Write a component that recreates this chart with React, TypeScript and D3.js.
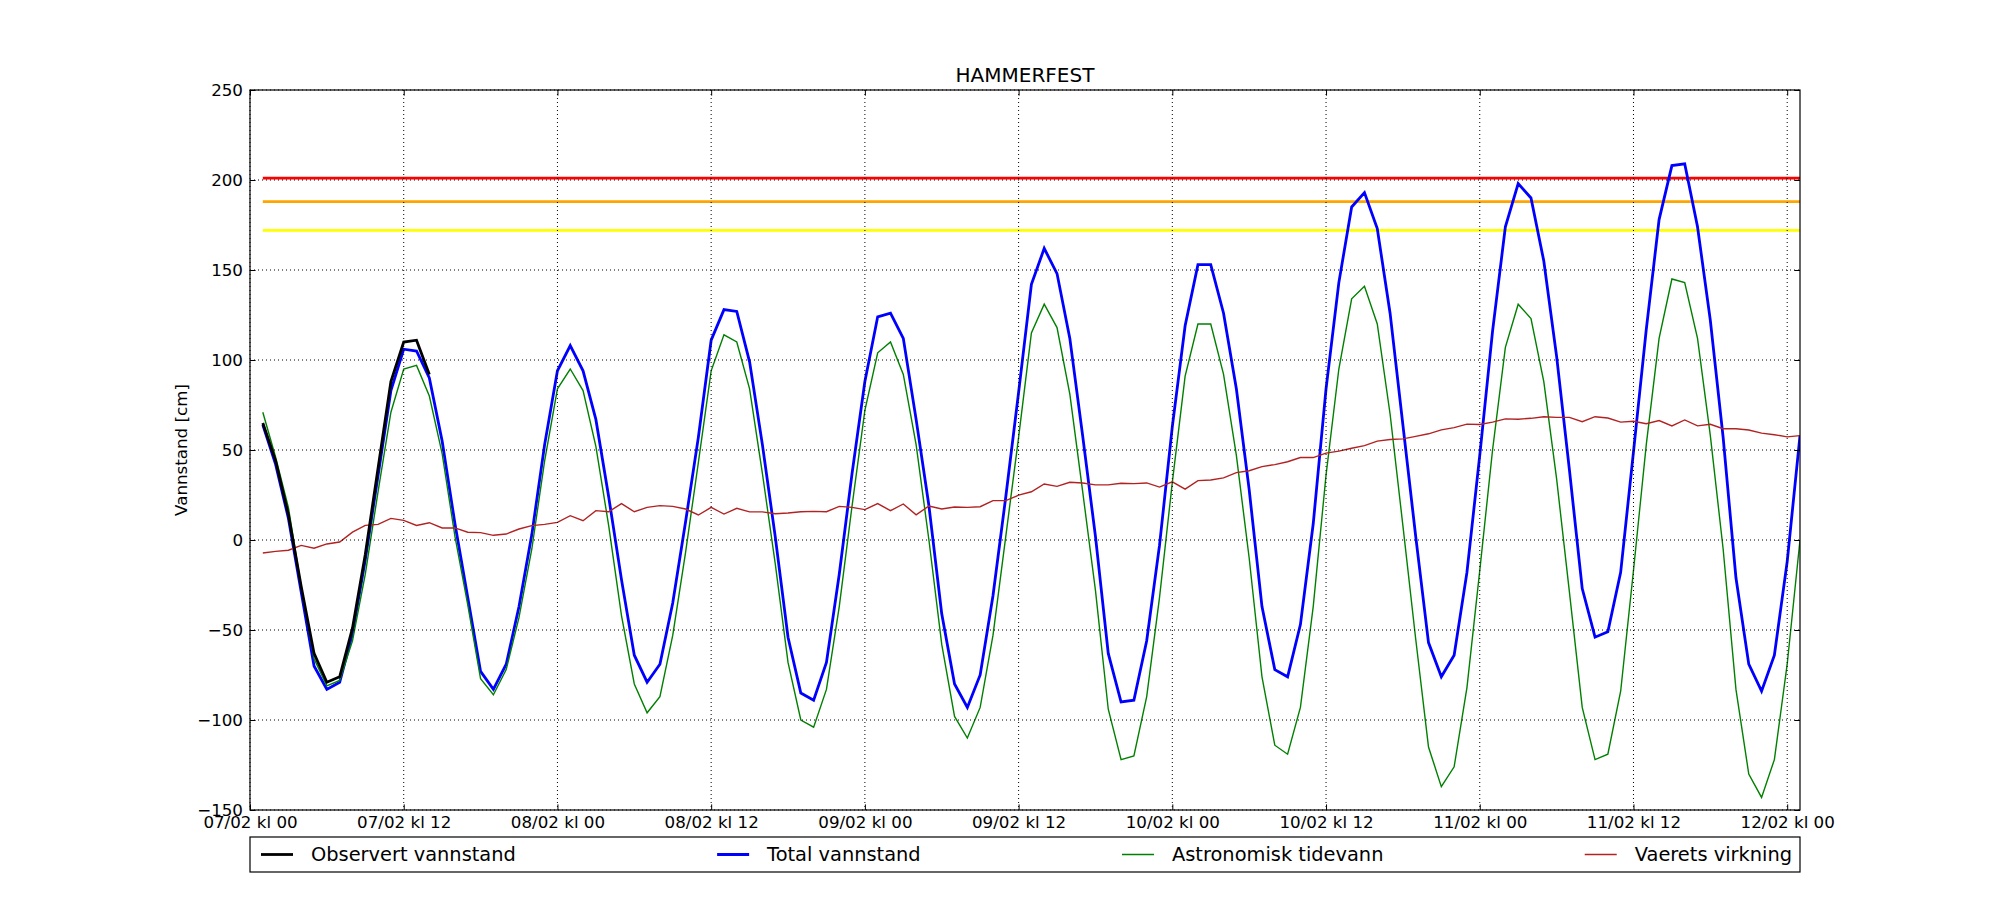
import React, { useEffect, useRef } from "react";
import * as d3 from "d3";

// station and legend
const station = "HAMMERFEST";
const seriesNames = ["Observert vannstand", "Total vannstand", "Astronomisk tidevann", "Vaerets virkning"];
const seriesColors = ["#000000", "#0000ff", "#008000", "#b22222"];

// hourly values from 07/02 kl 01 to 12/02 kl 01 (cm)
const observed = [65, 44, 14, -26, -63, -79, -76, -49, -8, 40, 88, 110, 111, 92];

const total = [
  64, 42, 12, -29, -70, -83, -79, -52, -11, 36,
  83, 106, 105, 90, 55, 9, -32, -73, -83, -69,
  -37, 3, 53, 94, 108, 94, 67, 24, -22, -64,
  -79, -69, -35, 10, 57, 111, 128, 127, 99, 53,
  2, -54, -85, -89, -68, -19, 37, 88, 124, 126,
  112, 67, 19, -41, -80, -93, -75, -31, 24, 82,
  142, 162, 148, 112, 58, 2, -63, -90, -89, -56,
  -3, 63, 119, 153, 153, 126, 84, 28, -37, -72,
  -76, -47, 9, 84, 143, 185, 193, 173, 126, 64,
  2, -57, -76, -64, -18, 47, 116, 174, 198, 190,
  155, 102, 39, -27, -54, -51, -18, 49, 117, 178,
  208, 209, 174, 122, 57, -21, -69, -84, -64, -12,
  58,
];

const astro = [
  71, 46, 18, -26, -66, -81, -78, -56, -19, 27,
  71, 95, 97, 80, 48, 2, -36, -77, -86, -72,
  -43, -5, 44, 84, 95, 83, 52, 8, -42, -80,
  -96, -87, -53, -7, 43, 94, 114, 110, 84, 37,
  -13, -68, -100, -104, -83, -37, 19, 72, 104, 110,
  92, 53, 0, -58, -98, -110, -93, -53, 2, 57,
  115, 131, 118, 81, 27, -28, -94, -122, -120, -87,
  -32, 32, 91, 120, 120, 92, 47, -10, -76, -114,
  -119, -93, -37, 36, 95, 134, 141, 120, 70, 8,
  -55, -115, -137, -126, -82, -17, 50, 107, 131, 123,
  88, 34, -29, -93, -122, -119, -84, -17, 53, 112,
  145, 143, 112, 58, -5, -83, -130, -143, -122, -69,
  0,
];

const weather = [
  -7.2, -6.3, -5.7, -3.0, -4.6, -2.2, -1.1, 4.4, 8.1, 8.7,
  12.0, 10.9, 8.1, 9.6, 6.7, 6.7, 4.3, 4.1, 2.6, 3.3,
  6.1, 8.0, 8.7, 9.8, 13.5, 10.7, 16.3, 15.7, 20.2, 15.7,
  18.1, 19.1, 18.7, 17.2, 13.9, 18.1, 14.4, 17.6, 15.6, 15.6,
  14.6, 15.0, 15.7, 15.9, 15.7, 18.7, 18.1, 16.9, 20.2, 16.3,
  20.0, 14.0, 18.9, 17.2, 18.3, 18.1, 18.5, 21.9, 21.9, 24.9,
  26.8, 31.1, 29.8, 32.1, 31.7, 30.6, 30.6, 31.5, 31.3, 31.7,
  29.4, 32.3, 28.3, 33.0, 33.3, 34.5, 37.4, 38.5, 40.8, 41.9,
  43.5, 45.8, 45.8, 48.3, 49.4, 51.0, 52.4, 54.9, 55.8, 56.2,
  57.6, 59.0, 61.2, 62.4, 64.4, 64.2, 65.5, 67.3, 67.1, 67.6,
  68.5, 68.1, 68.1, 65.7, 68.5, 67.8, 65.5, 66.0, 64.6, 66.4,
  63.4, 66.7, 63.4, 64.3, 61.8, 61.8, 61.1, 59.4, 58.5, 57.3,
  58.0,
];

// warning levels (cm)
const levels = [201, 188, 172];
const levelColors = ["#ff0000", "#ffa500", "#ffff00"];

const yTicks = [-150, -100, -50, 0, 50, 100, 150, 200, 250];

const firstHour = new Date(2017, 1, 7, 1);
const times = d3.timeHour.range(firstHour, new Date(2017, 1, 12, 2));

const W = 2000;
const H = 900;
const margin = { top: 90, right: 200, bottom: 90, left: 250 };
const font = "DejaVu Sans, sans-serif";

export default function App() {
  const ref = useRef<SVGSVGElement>(null);

  useEffect(() => {
    if (!ref.current) return;
    const svg = d3.select(ref.current);
    svg.selectAll("*").remove();

    const iw = W - margin.left - margin.right;
    const ih = H - margin.top - margin.bottom;

    const x = d3
      .scaleTime()
      .domain([new Date(2017, 1, 7, 0), new Date(2017, 1, 12, 1)])
      .range([margin.left, margin.left + iw]);
    const y = d3.scaleLinear().domain([-150, 250]).range([margin.top + ih, margin.top]);

    svg.append("rect").attr("width", W).attr("height", H).attr("fill", "#fff");

    svg
      .append("defs")
      .append("clipPath")
      .attr("id", "plot")
      .append("rect")
      .attr("x", margin.left)
      .attr("y", margin.top)
      .attr("width", iw)
      .attr("height", ih);

    const plot = svg.append("g").attr("clip-path", "url(#plot)");

    // warning levels
    levels.forEach((lv, i) => {
      plot
        .append("line")
        .attr("x1", x(times[0]))
        .attr("x2", x(times[times.length - 1]))
        .attr("y1", y(lv))
        .attr("y2", y(lv))
        .attr("stroke", levelColors[i])
        .attr("stroke-width", 2.8);
    });

    const line = d3
      .line<number>()
      .x((_, i) => x(times[i]))
      .y((d) => y(d));

    const drawSeries = (vals: number[], color: string, width: number) =>
      plot
        .append("path")
        .datum(vals)
        .attr("fill", "none")
        .attr("stroke", color)
        .attr("stroke-width", width)
        .attr("stroke-linejoin", "miter")
        .attr("d", line);

    drawSeries(total, seriesColors[1], 2.8);
    drawSeries(astro, seriesColors[2], 1.4);
    drawSeries(weather, seriesColors[3], 1.4);
    drawSeries(observed, seriesColors[0], 2.8);

    // grid on top of lines, like matplotlib
    const xTicks = x.ticks(d3.timeHour.every(12));
    const grid = svg.append("g").attr("stroke", "#000").attr("stroke-width", 1).attr("stroke-dasharray", "1,3");
    xTicks.forEach((t) => {
      grid.append("line").attr("x1", x(t)).attr("x2", x(t)).attr("y1", margin.top).attr("y2", margin.top + ih);
    });
    yTicks.forEach((v) => {
      grid.append("line").attr("x1", margin.left).attr("x2", margin.left + iw).attr("y1", y(v)).attr("y2", y(v));
    });

    // axes
    const styleAxis = (g: d3.Selection<SVGGElement, unknown, null, undefined>) => {
      g.attr("font-family", font).attr("font-size", 16.7);
      g.select(".domain").remove();
      g.selectAll("line").attr("stroke", "#000").attr("stroke-width", 1);
      g.selectAll("text").attr("fill", "#000");
    };

    svg
      .append("g")
      .attr("transform", `translate(0,${margin.top + ih})`)
      .call(
        d3
          .axisBottom(x)
          .tickValues(xTicks)
          .tickSizeInner(-5.6)
          .tickSizeOuter(0)
          .tickPadding(6)
          .tickFormat(d3.timeFormat("%d/%m kl %H") as any)
      )
      .call(styleAxis);
    svg
      .append("g")
      .attr("transform", `translate(0,${margin.top})`)
      .call(d3.axisTop(x).tickValues(xTicks).tickSizeInner(-5.6).tickSizeOuter(0).tickFormat(() => ""))
      .call(styleAxis);
    svg
      .append("g")
      .attr("transform", `translate(${margin.left},0)`)
      .call(d3.axisLeft(y).tickValues(yTicks).tickSizeInner(-5.6).tickSizeOuter(0).tickPadding(7))
      .call(styleAxis);
    svg
      .append("g")
      .attr("transform", `translate(${margin.left + iw},0)`)
      .call(d3.axisRight(y).tickValues(yTicks).tickSizeInner(-5.6).tickSizeOuter(0).tickFormat(() => ""))
      .call(styleAxis);

    // frame
    svg
      .append("rect")
      .attr("x", margin.left)
      .attr("y", margin.top)
      .attr("width", iw)
      .attr("height", ih)
      .attr("fill", "none")
      .attr("stroke", "#000")
      .attr("stroke-width", 1.2);

    // title and y label
    svg
      .append("text")
      .attr("x", margin.left + iw / 2)
      .attr("y", margin.top - 8)
      .attr("text-anchor", "middle")
      .attr("font-family", font)
      .attr("font-size", 20)
      .text(station);

    svg
      .append("text")
      .attr("transform", `translate(181,${margin.top + ih / 2}) rotate(-90)`)
      .attr("text-anchor", "middle")
      .attr("dominant-baseline", "central")
      .attr("font-family", font)
      .attr("font-size", 16.7)
      .text("Vannstand [cm]");

    // legend below the axes, expanded over the full width
    const legTop = 837;
    const legH = 35;
    const legMid = legTop + legH / 2;
    svg
      .append("rect")
      .attr("x", margin.left)
      .attr("y", legTop)
      .attr("width", iw)
      .attr("height", legH)
      .attr("fill", "#fff")
      .attr("stroke", "#000")
      .attr("stroke-width", 1.2);

    const leg = svg.append("g");
    const handleLen = 32;
    const textOff = 50;
    const texts = seriesNames.map((name) =>
      leg
        .append("text")
        .attr("font-family", font)
        .attr("font-size", 19.4)
        .attr("y", legMid)
        .attr("dy", "0.35em")
        .text(name)
    );
    const widths = texts.map((t) => (t.node() as SVGTextElement).getComputedTextLength());
    const start = margin.left + 11;
    const end = margin.left + iw - 8;
    const used = d3.sum(widths) + textOff * seriesNames.length;
    const sep = (end - start - used) / (seriesNames.length - 1);
    let cx = start;
    seriesNames.forEach((_, i) => {
      leg
        .append("line")
        .attr("x1", cx)
        .attr("x2", cx + handleLen)
        .attr("y1", legMid)
        .attr("y2", legMid)
        .attr("stroke", seriesColors[i])
        .attr("stroke-width", i < 2 ? 2.8 : 1.4);
      texts[i].attr("x", cx + textOff);
      cx += textOff + widths[i] + sep;
    });
  }, []);

  return <svg ref={ref} width={W} height={H} style={{ position: "absolute", left: 0, top: 0 }} />;
}
